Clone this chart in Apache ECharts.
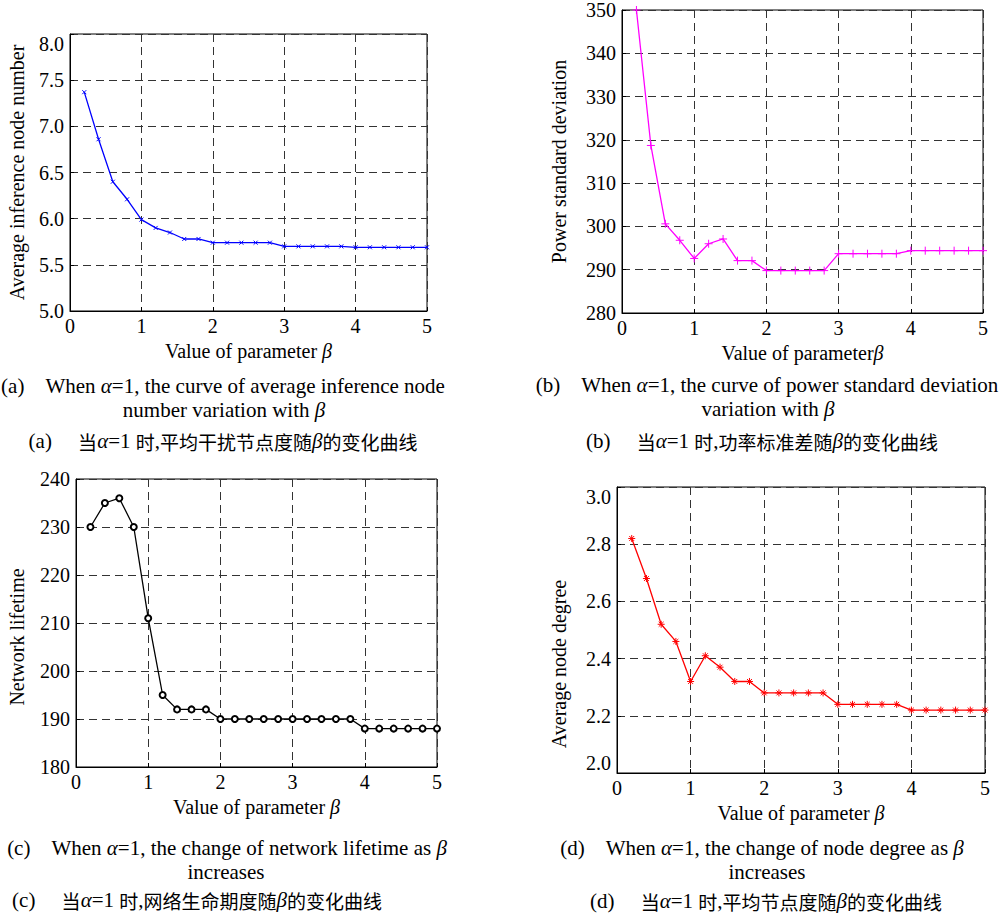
<!DOCTYPE html>
<html>
<head>
<meta charset="utf-8">
<title>Influence of beta</title>
<script src="https://cdn.jsdelivr.net/npm/echarts@6/dist/echarts.min.js"></script>
<style>
  html, body { margin: 0; padding: 0; background: #fff; }
  #chart { width: 1000px; height: 916px; }
</style>
</head>
<body>
<div id="chart"></div>
<script>
// beta values on the x axis (same for every panel)
const betas = [0.2, 0.4, 0.6, 0.8, 1.0, 1.2, 1.4, 1.6, 1.8, 2.0, 2.2, 2.4, 2.6, 2.8, 3.0,
  3.2, 3.4, 3.6, 3.8, 4.0, 4.2, 4.4, 4.6, 4.8, 5.0]
const xTicks = [0, 1, 2, 3, 4, 5]

// (a) average inference node number
const interferenceNodes = [7.37, 6.86, 6.40, 6.21, 5.99, 5.90, 5.85, 5.78, 5.78, 5.74, 5.74, 5.74, 5.74, 5.74, 5.70,
  5.70, 5.70, 5.70, 5.70, 5.69, 5.69, 5.69, 5.69, 5.69, 5.69]
const interferenceTicks = [5.0, 5.5, 6.0, 6.5, 7.0, 7.5, 8.0]

// (b) power standard deviation
const powerStd = [350, 318.7, 300.6, 296.8, 292.6, 296.0, 297.1, 292.1, 292.1, 289.8, 289.8, 289.8, 289.8, 289.8, 293.7,
  293.7, 293.7, 293.7, 293.7, 294.4, 294.4, 294.4, 294.4, 294.4, 294.4]
const powerTicks = [280, 290, 300, 310, 320, 330, 340, 350]

// (c) network lifetime
const lifetime = [230, 235, 236, 230, 211, 195, 192, 192, 192, 190, 190, 190, 190, 190, 190,
  190, 190, 190, 190, 188, 188, 188, 188, 188, 188]
const lifetimeTicks = [180, 190, 200, 210, 220, 230, 240]

// (d) average node degree
const nodeDegree = [2.82, 2.68, 2.52, 2.46, 2.32, 2.41, 2.37, 2.32, 2.32, 2.28, 2.28, 2.28, 2.28, 2.28, 2.24,
  2.24, 2.24, 2.24, 2.24, 2.22, 2.22, 2.22, 2.22, 2.22, 2.22]
const degreeTicks = [2.0, 2.2, 2.4, 2.6, 2.8, 3.0]

const SERIF = 'Liberation Serif, serif'
const CJK = 'Noto Sans CJK SC, sans-serif'

const panels = [
  {
    values: interferenceNodes, ticks: interferenceTicks, digits: 1,
    yName: 'Average inference node number', xName: 'Value of parameter {i|β}',
    grid: { left: 70, top: 34, width: 357, height: 277 },
    color: '#0000ff', symbol: 'path://M0,0L10,10M10,0L0,10', symbolSize: 4,
    yNameGap: 43, yNameShift: 0, topLabel: 'top', bottomLabel: 'middle'
  },
  {
    values: powerStd, ticks: powerTicks, digits: 0,
    yName: 'Power standard deviation', xName: 'Value of parameter{i|β}',
    grid: { left: 622, top: 9, width: 361, height: 304 },
    color: '#ff00ff', symbol: 'path://M5,0L5,10M0,5L10,5', symbolSize: 8,
    yNameGap: 53, yNameShift: 0, topLabel: 'middle', bottomLabel: 'middle'
  },
  {
    values: lifetime, ticks: lifetimeTicks, digits: 0,
    yName: 'Network lifetime', xName: 'Value of parameter {i|β}',
    grid: { left: 76, top: 479, width: 361, height: 288 },
    color: '#000000', symbol: 'emptyCircle', symbolSize: 6,
    yNameGap: 49, yNameShift: 14, topLabel: 'middle', bottomLabel: 'middle'
  },
  {
    values: nodeDegree, ticks: degreeTicks, digits: 1,
    yName: 'Average node degree', xName: 'Value of parameter {i|β}',
    grid: { left: 617, top: 487, width: 368, height: 286 },
    color: '#ff0000', symbol: 'path://M5,0L5,10M0,5L10,5M1.5,1.5L8.5,8.5M8.5,1.5L1.5,8.5', symbolSize: 7,
    yNameGap: 48, yNameShift: 34, topLabel: 'top', bottomLabel: 'bottom'
  }
]

// caption lines: [centre x, y, text]
const gap4 = '\u00a0\u00a0\u00a0\u00a0'
const gap5 = '\u00a0\u00a0\u00a0\u00a0\u00a0'
const captions = [
  [223, 386, '(a)' + gap4 + 'When α=1, the curve of average inference node'],
  [224, 410, 'number variation with β'],
  [223, 441, '(a)' + gap5 + '当α=1 时,平均干扰节点度随β的变化曲线'],
  [767, 385, '(b)' + gap4 + 'When α=1, the curve of power standard deviation'],
  [768, 409, 'variation with β'],
  [762, 441, '(b)' + gap5 + '当α=1 时,功率标准差随β的变化曲线'],
  [227, 848, '(c)' + gap4 + 'When α=1, the change of network lifetime as β'],
  [226, 872, 'increases'],
  [197, 900, '(c)' + gap5 + '当α=1 时,网络生命期度随β的变化曲线'],
  [762, 848, '(d)' + gap4 + 'When α=1, the change of node degree as β'],
  [767, 872, 'increases'],
  [766, 901, '(d)' + gap5 + '当α=1 时,平均节点度随β的变化曲线']
]

// split a caption into rich text runs: serif / italic greek / CJK
function toRich(s) {
  let out = ''
  let cur = null
  let buf = ''
  for (const ch of s) {
    let tag = 'e'
    if (ch === 'α' || ch === 'β') tag = 'i'
    else if (ch.charCodeAt(0) > 0x2e80) tag = 'c'
    if (tag !== cur && buf) {
      out += '{' + cur + '|' + buf + '}'
      buf = ''
    }
    cur = tag
    buf += ch
  }
  if (buf) out += '{' + cur + '|' + buf + '}'
  return out
}

const chart = echarts.init(document.getElementById('chart'), null, { renderer: 'svg' })

const option = {
  animation: false,
  backgroundColor: '#fff',
  grid: [],
  xAxis: [],
  yAxis: [],
  series: [],
  graphic: []
}

const labelStyle = () => ({ fontFamily: SERIF, fontSize: 20, color: '#000' })
const splitStyle = () => ({ show: true, lineStyle: { type: [8, 5], color: '#333', width: 1 } })

panels.forEach((p, i) => {
  option.grid.push(Object.assign({ show: true, borderColor: '#000', borderWidth: 1, containLabel: false }, p.grid))
  option.xAxis.push({
    type: 'value',
    gridIndex: i,
    min: xTicks[0],
    max: xTicks[xTicks.length - 1],
    interval: xTicks[1] - xTicks[0],
    name: p.xName,
    nameLocation: 'middle',
    nameGap: 30,
    nameTextStyle: Object.assign({ rich: { i: { fontFamily: SERIF, fontSize: 20, fontStyle: 'italic', color: '#000' } } }, labelStyle()),
    axisLine: { lineStyle: { color: '#000', width: 1 } },
    axisTick: { inside: true, length: 4, lineStyle: { color: '#000' } },
    axisLabel: Object.assign({ margin: 5 }, labelStyle()),
    splitLine: splitStyle()
  })
  option.yAxis.push({
    type: 'value',
    gridIndex: i,
    min: p.ticks[0],
    max: p.ticks[p.ticks.length - 1],
    interval: +(p.ticks[1] - p.ticks[0]).toFixed(2),
    name: p.yName,
    nameLocation: 'middle',
    nameGap: p.yNameGap,
    nameTextStyle: Object.assign({ padding: [0, p.yNameShift * 2, 0, 0] }, labelStyle()),
    axisLine: { lineStyle: { color: '#000', width: 1 } },
    axisTick: { inside: true, length: 4, lineStyle: { color: '#000' } },
    axisLabel: Object.assign({
      margin: 6,
      verticalAlignMaxLabel: p.topLabel,
      verticalAlignMinLabel: p.bottomLabel,
      formatter: v => v.toFixed(p.digits)
    }, labelStyle()),
    splitLine: splitStyle()
  })
  option.series.push({
    type: 'line',
    xAxisIndex: i,
    yAxisIndex: i,
    data: betas.map((b, k) => [b, p.values[k]]),
    symbol: p.symbol,
    symbolSize: p.symbolSize,
    showSymbol: true,
    clip: true,
    lineStyle: { color: p.color, width: 1.3 },
    itemStyle: { color: p.color, borderColor: p.color, borderWidth: 1 },
    z: 3
  })
})

captions.forEach(([x, y, t]) => {
  option.graphic.push({
    type: 'text',
    x: x,
    y: y,
    style: {
      text: toRich(t),
      align: 'center',
      verticalAlign: 'middle',
      rich: {
        e: { fontFamily: SERIF, fontSize: 21, fill: '#000' },
        i: { fontFamily: SERIF, fontSize: 21, fontStyle: 'italic', fill: '#000' },
        c: { fontFamily: CJK, fontSize: 19, fill: '#000' }
      }
    }
  })
})

chart.setOption(option)
</script>
</body>
</html>
